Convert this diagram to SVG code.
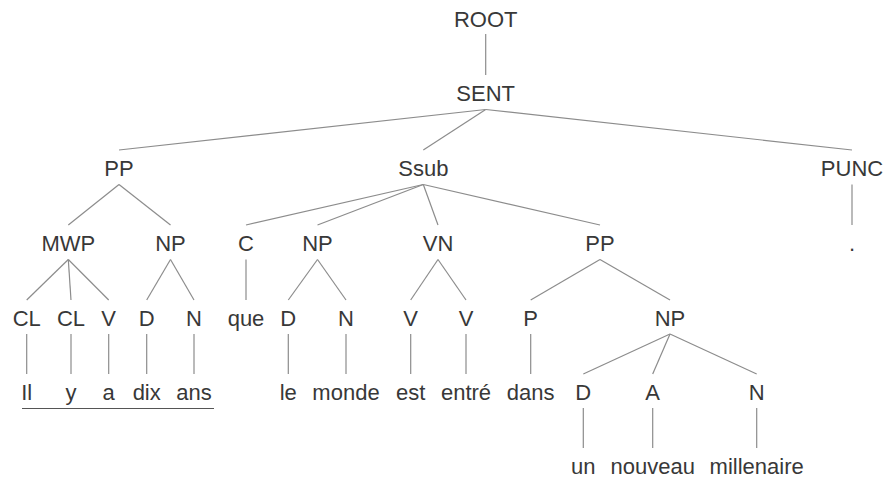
<svg xmlns="http://www.w3.org/2000/svg" width="887" height="481" viewBox="0 0 887 481">
<style>
text{font-family:"Liberation Sans",Arial,sans-serif;font-size:22px;fill:#383838;text-anchor:middle}
.e line{stroke:#8c8c8c;stroke-width:1.2;fill:none}
.u{stroke:#555;stroke-width:1.2}
</style>
<rect width="887" height="481" fill="#fff"/>
<g id="connectors" class="e">
<line x1="485.7" y1="34" x2="485.7" y2="75"/>
<line x1="485.7" y1="109.5" x2="119" y2="150"/>
<line x1="485.7" y1="109.5" x2="423.3" y2="150"/>
<line x1="485.7" y1="109.5" x2="852" y2="150"/>
<line x1="119" y1="184.5" x2="68.3" y2="225"/>
<line x1="119" y1="184.5" x2="170.5" y2="225"/>
<line x1="423.3" y1="184.5" x2="246" y2="225"/>
<line x1="423.3" y1="184.5" x2="317.5" y2="225"/>
<line x1="423.3" y1="184.5" x2="438" y2="225"/>
<line x1="423.3" y1="184.5" x2="600" y2="225"/>
<line x1="852" y1="184.5" x2="852" y2="225"/>
<line x1="68.3" y1="259.5" x2="26.7" y2="300"/>
<line x1="68.3" y1="259.5" x2="71" y2="300"/>
<line x1="68.3" y1="259.5" x2="108.7" y2="300"/>
<line x1="170.5" y1="259.5" x2="146.7" y2="300"/>
<line x1="170.5" y1="259.5" x2="194" y2="300"/>
<line x1="246" y1="259.5" x2="246" y2="300"/>
<line x1="317.5" y1="259.5" x2="288.3" y2="300"/>
<line x1="317.5" y1="259.5" x2="346" y2="300"/>
<line x1="438" y1="259.5" x2="410.7" y2="300"/>
<line x1="438" y1="259.5" x2="466" y2="300"/>
<line x1="600" y1="259.5" x2="530.7" y2="300"/>
<line x1="600" y1="259.5" x2="670" y2="300"/>
<line x1="26.7" y1="334" x2="26.7" y2="374"/>
<line x1="71" y1="334" x2="71" y2="374"/>
<line x1="108.7" y1="334" x2="108.7" y2="374"/>
<line x1="146.7" y1="334" x2="146.7" y2="374"/>
<line x1="194" y1="334" x2="194" y2="374"/>
<line x1="288.3" y1="334" x2="288.3" y2="374"/>
<line x1="346" y1="334" x2="346" y2="374"/>
<line x1="410.7" y1="334" x2="410.7" y2="374"/>
<line x1="466" y1="334" x2="466" y2="374"/>
<line x1="530.7" y1="334" x2="530.7" y2="374"/>
<line x1="670" y1="334" x2="583.3" y2="374"/>
<line x1="670" y1="334" x2="652.7" y2="374"/>
<line x1="670" y1="334" x2="756.7" y2="374"/>
<line x1="583.3" y1="408" x2="583.3" y2="448"/>
<line x1="652.7" y1="408" x2="652.7" y2="448"/>
<line x1="756.7" y1="408" x2="756.7" y2="448"/>
</g>
<line class="u" x1="22" y1="408.5" x2="214" y2="408.5"/>
<g id="n-root"><text x="485.7" y="26.5">ROOT</text></g>
<g id="n-sent"><text x="485.7" y="101">SENT</text></g>
<g id="n-pp1"><text x="119" y="176">PP</text></g>
<g id="n-ssub"><text x="423.3" y="176">Ssub</text></g>
<g id="n-punc"><text x="852" y="176">PUNC</text></g>
<g id="n-mwp"><text x="68.3" y="251">MWP</text></g>
<g id="n-np1"><text x="170.5" y="251">NP</text></g>
<g id="n-c"><text x="246" y="251">C</text></g>
<g id="n-np2"><text x="317.5" y="251">NP</text></g>
<g id="n-vn"><text x="438" y="251">VN</text></g>
<g id="n-pp2"><text x="600" y="251">PP</text></g>
<g id="n-dot"><text x="852" y="251">.</text></g>
<g id="n-cl1"><text x="26.7" y="326">CL</text></g>
<g id="n-cl2"><text x="71" y="326">CL</text></g>
<g id="n-v1"><text x="108.7" y="326">V</text></g>
<g id="n-d1"><text x="146.7" y="326">D</text></g>
<g id="n-n1"><text x="194" y="326">N</text></g>
<g id="n-que"><text x="246" y="326">que</text></g>
<g id="n-d2"><text x="288.3" y="326">D</text></g>
<g id="n-n2"><text x="346" y="326">N</text></g>
<g id="n-v2"><text x="410.7" y="326">V</text></g>
<g id="n-v3"><text x="466" y="326">V</text></g>
<g id="n-p"><text x="530.7" y="326">P</text></g>
<g id="n-np3"><text x="670" y="326">NP</text></g>
<g id="n-il"><text x="26.7" y="400">Il</text></g>
<g id="n-y"><text x="71" y="400">y</text></g>
<g id="n-a"><text x="108.7" y="400">a</text></g>
<g id="n-dix"><text x="146.7" y="400">dix</text></g>
<g id="n-ans"><text x="194" y="400">ans</text></g>
<g id="n-le"><text x="288.3" y="400">le</text></g>
<g id="n-monde"><text x="346" y="400">monde</text></g>
<g id="n-est"><text x="410.7" y="400">est</text></g>
<g id="n-entre"><text x="466" y="400">entré</text></g>
<g id="n-dans"><text x="530.7" y="400">dans</text></g>
<g id="n-d3"><text x="583.3" y="400">D</text></g>
<g id="n-a2"><text x="652.7" y="400">A</text></g>
<g id="n-n3"><text x="756.7" y="400">N</text></g>
<g id="n-un"><text x="583.3" y="474">un</text></g>
<g id="n-nouveau"><text x="652.7" y="474">nouveau</text></g>
<g id="n-millenaire"><text x="756.7" y="474">millenaire</text></g>
</svg>
